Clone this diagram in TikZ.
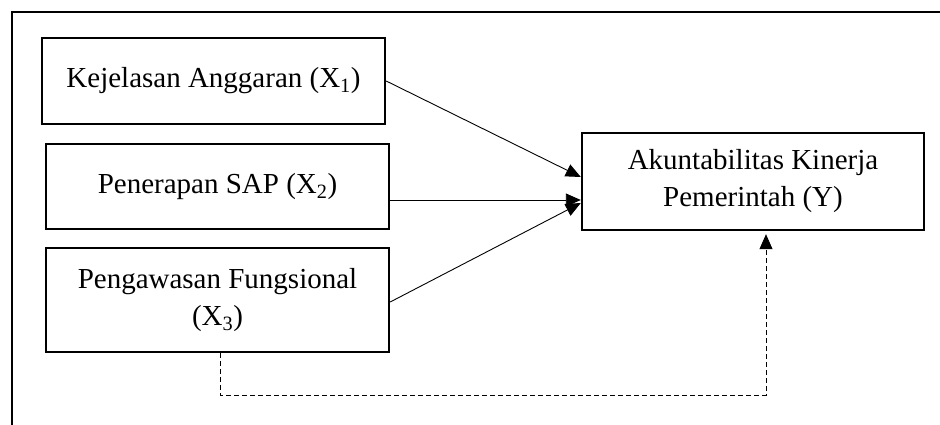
\documentclass[tikz,border=0pt]{standalone}
\usepackage{fontspec}
\setmainfont{Liberation Serif}
\usetikzlibrary{arrows.meta}
\begin{document}
\begin{tikzpicture}[x=1pt,y=-1pt,
  box/.style={draw,line width=2.4pt,rectangle,inner sep=0pt,align=center,
    font=\fontsize{29}{37}\selectfont},
  conn/.style={line width=0.9pt,-{Triangle[length=15pt,width=13pt]}},
  dconn/.style={line width=0.9pt,dash pattern=on 5pt off 3pt,-{Triangle[length=15pt,width=13pt]}}]
\useasboundingbox (0,0) rectangle (940,425);
% outer frame (open at right and bottom)
\draw[line width=2.4pt] (12,425) -- (12,12) -- (940,12);
\node[box,minimum width=343pt,minimum height=86pt] (X1) at (213.5,81) {Kejelasan Anggaran (X\textsubscript{1})};
\node[box,minimum width=343pt,minimum height=85pt] (X2) at (217.5,186.5) {Penerapan SAP (X\textsubscript{2})};
\node[box,minimum width=343pt,minimum height=104pt] (X3) at (217.5,300) {Pengawasan Fungsional\\(X\textsubscript{3})};
\node[box,minimum width=342pt,minimum height=97pt] (Y) at (753,181.5) {Akuntabilitas Kinerja\\Pemerintah (Y)};
\coordinate (dc) at (766,395);
\draw[conn] (X1.east) -- ([yshift=4.5pt]Y.west);
\draw[conn] ([yshift=-13.5pt]X2.east) -- ([yshift=-13.5pt]X2.east -| Y.west);
\draw[conn] ([yshift=-2pt]X3.east) -- ([yshift=-21.5pt]Y.west);
\draw[dconn,shorten >=3pt] ([xshift=2.5pt]X3.south) |- (dc) -- ([xshift=13pt]Y.south);
\end{tikzpicture}
\end{document}
